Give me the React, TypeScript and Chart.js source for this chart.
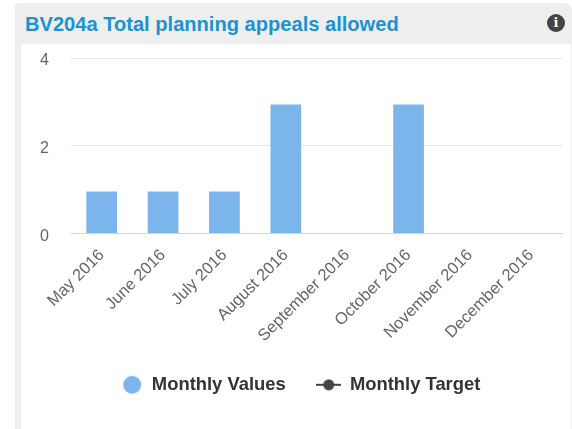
import React, { useEffect, useRef } from "react";
import { Chart, registerables } from "chart.js";

Chart.register(...registerables);

const titleText = "BV204a Total planning appeals allowed";
const categories = ["May 2016", "June 2016", "July 2016", "August 2016", "September 2016", "October 2016", "November 2016", "December 2016"];
const monthlyValues = [0.96, 0.96, 0.96, 2.94, 0, 2.94, 0, 0];
const monthlyTarget = [null, null, null, null, null, null, null, null];
const yTicks = [0, 2, 4];

const FONT = "'Liberation Sans', Arial, sans-serif";
const BAR = "#7cb5ec";
const DARK = "#434348";

function marker(kind: "circle" | "line") {
  const c = document.createElement("canvas");
  c.width = 25;
  c.height = 20;
  const g = c.getContext("2d")!;
  if (kind === "circle") {
    g.fillStyle = BAR;
    g.beginPath();
    g.arc(14, 10, 9, 0, Math.PI * 2);
    g.fill();
  } else {
    g.strokeStyle = DARK;
    g.lineWidth = 2;
    g.beginPath();
    g.moveTo(0, 10);
    g.lineTo(25, 10);
    g.stroke();
    g.fillStyle = DARK;
    g.beginPath();
    g.arc(12.5, 10, 5.5, 0, Math.PI * 2);
    g.fill();
  }
  return c;
}

export default function App() {
  const ref = useRef<HTMLCanvasElement>(null);
  useEffect(() => {
    const circle = marker("circle");
    const line = marker("line");
    const chart = new Chart(ref.current!, {
      type: "bar",
      data: {
        labels: categories,
        datasets: [
          { type: "bar", label: "Monthly Values", data: monthlyValues, backgroundColor: BAR, barPercentage: 0.5, categoryPercentage: 1 },
          { type: "line", label: "Monthly Target", data: monthlyTarget as any, borderColor: DARK, backgroundColor: DARK, borderWidth: 2, pointRadius: 5 },
        ],
      },
      options: {
        responsive: false,
        animation: false,
        layout: { padding: { left: 17, right: 9, top: 14, bottom: 25 } },
        plugins: {
          tooltip: { enabled: false },
          legend: {
            position: "bottom",
            labels: {
              usePointStyle: true,
              pointStyleWidth: 24,
              padding: 31,
              color: "#333333",
              font: { family: FONT, size: 18.4, weight: "bold" },
              generateLabels: (ch: any) =>
                ch.data.datasets.map((d: any, i: number) => ({
                  text: d.label,
                  datasetIndex: i,
                  fontColor: "#333333",
                  pointStyle: i === 0 ? circle : line,
                  hidden: false,
                })),
            },
          },
        },
        scales: {
          x: {
            grid: { display: false },
            border: { display: true, color: "#ccd6eb", width: 1 },
            ticks: { autoSkip: false, minRotation: 45, maxRotation: 45, padding: 4, color: "#666666", font: { family: FONT, size: 16.5 } },
            afterFit: (s: any) => { s.height = 111; },
          },
          y: {
            min: 0,
            max: 4,
            afterBuildTicks: (s: any) => { s.ticks = yTicks.map((v) => ({ value: v })); },
            grid: { color: "#e6e6e6", drawTicks: false },
            border: { display: false },
            ticks: {
              padding: 22,
              color: "#666666",
              font: { family: FONT, size: 16, lineHeight: "5px" },
              callback: (v: any) => ["", String(v)],
            },
            afterFit: (s: any) => { s.width = 34; },
          },
        },
      },
    } as any);
    return () => chart.destroy();
  }, []);

  return (
    <div style={{ position: "fixed", left: 0, top: 0, width: 572, height: 429, background: "#fff", overflow: "hidden", filter: "blur(0.4px)" }}>
      <div style={{ position: "absolute", left: 15, top: 3, width: 557, height: 426, background: "#eeeeee", borderTopLeftRadius: 4, borderTopRightRadius: 8 }} />
      <div style={{ position: "absolute", left: 21, top: 44, width: 550, height: 385, background: "#fff" }} />
      <div style={{ position: "absolute", left: 25, top: 13, fontFamily: FONT, fontWeight: "bold", fontSize: 20.1, lineHeight: "22px", color: "#1b93d1", whiteSpace: "nowrap" }}>{titleText}</div>
      <div style={{ position: "absolute", left: 547, top: 14, width: 18, height: 18, borderRadius: 9, background: "#444444", color: "#fff", fontFamily: "'DejaVu Serif', serif", fontWeight: "bold", fontSize: 13, lineHeight: "18px", textAlign: "center" }}>i</div>
      <canvas ref={ref} width={551} height={398} style={{ position: "absolute", left: 20, top: 31, display: "block" }} />
    </div>
  );
}
